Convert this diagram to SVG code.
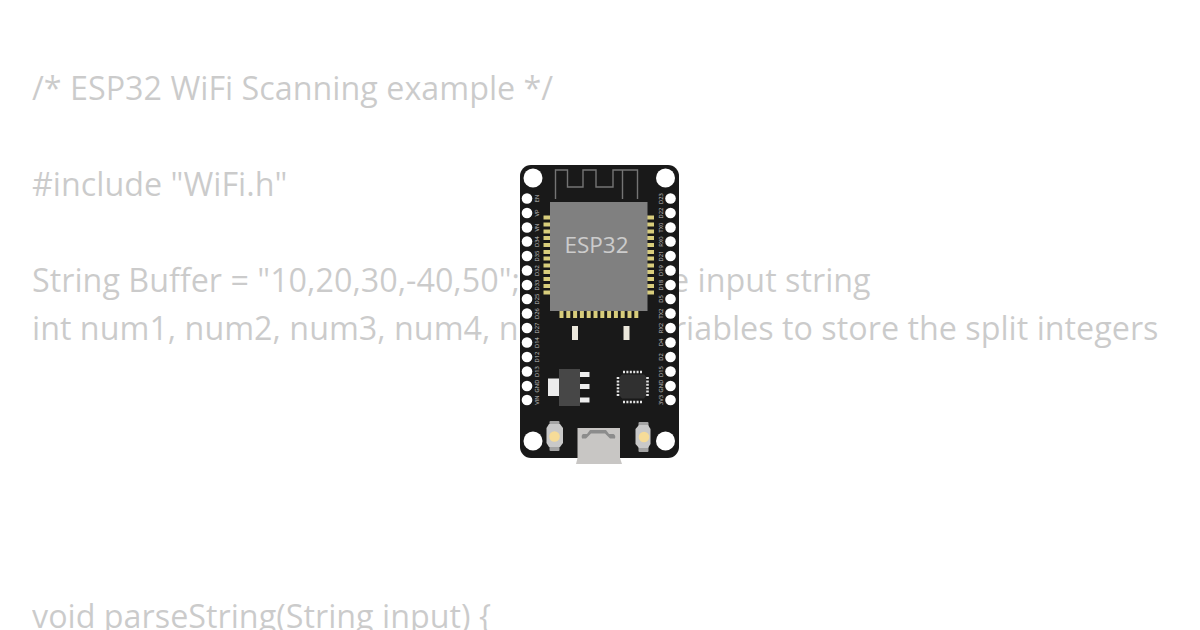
<svg xmlns="http://www.w3.org/2000/svg" width="1200" height="630" viewBox="0 0 1200 630">
<style>
.code{font-family:"Open Sans","Noto Sans",sans-serif;font-size:32.3px;fill:#000;opacity:.2}
.pin{fill:#fff}
.pl{font-family:"Open Sans","DejaVu Sans",sans-serif;font-size:5.800px;fill:#fff;opacity:.72;text-anchor:middle}
.gold{fill:#d8cd7c}
.lead{fill:#eeeeee}
.qfn{fill:none;stroke:#e4e4e4;stroke-width:2.600;stroke-dasharray:2 1.400}
.ledbody{fill:#c9c9c9}
.ledtab{fill:#a4a4a4}
.ledlight{fill:#f6dc98}
</style>
<rect width="1200" height="630" fill="#fff"/>
<g id="code">
<text class="code" x="32" y="100">/* ESP32 WiFi Scanning example */</text>
<text class="code" x="32" y="196">#include "WiFi.h"</text>
<text class="code" x="32" y="292">String Buffer = "10,20,30,-40,50";  // Example input string</text>
<text class="code" x="32" y="340">int num1, num2, num3, num4, num5;  // Variables to store the split integers</text>
<text class="code" x="32" y="628">void parseString(String input) {</text>
</g>
<g id="esp32-board">
<rect x="520" y="165" width="159" height="293" rx="11" fill="#191919"/>
<circle cx="533" cy="178" r="9.500" fill="#fff"/>
<circle cx="665.500" cy="178" r="9.500" fill="#fff"/>
<circle cx="533" cy="441" r="9.500" fill="#fff"/>
<circle cx="665.500" cy="441" r="9.500" fill="#fff"/>
<path d="M555.500 199V170H567.500V187H583V170H596V187H613V170H637.500V199M622.500 170V199" fill="none" stroke="#747474" stroke-width="1.400"/>
<g id="pins-left">
<circle class="pin" cx="527" cy="198.500" r="5.300"/><circle class="pin" cx="527" cy="213" r="5.300"/><circle class="pin" cx="527" cy="227.500" r="5.300"/><circle class="pin" cx="527" cy="241.500" r="5.300"/><circle class="pin" cx="527" cy="256" r="5.300"/><circle class="pin" cx="527" cy="270.500" r="5.300"/><circle class="pin" cx="527" cy="285" r="5.300"/><circle class="pin" cx="527" cy="299" r="5.300"/><circle class="pin" cx="527" cy="313.500" r="5.300"/><circle class="pin" cx="527" cy="328" r="5.300"/><circle class="pin" cx="527" cy="342.500" r="5.300"/><circle class="pin" cx="527" cy="357" r="5.300"/><circle class="pin" cx="527" cy="371.500" r="5.300"/><circle class="pin" cx="527" cy="386" r="5.300"/><circle class="pin" cx="527" cy="400" r="5.300"/>
</g>
<g id="pins-right">
<circle class="pin" cx="670.500" cy="198.500" r="5.300"/><circle class="pin" cx="670.500" cy="213" r="5.300"/><circle class="pin" cx="670.500" cy="227.500" r="5.300"/><circle class="pin" cx="670.500" cy="241.500" r="5.300"/><circle class="pin" cx="670.500" cy="256" r="5.300"/><circle class="pin" cx="670.500" cy="270.500" r="5.300"/><circle class="pin" cx="670.500" cy="285" r="5.300"/><circle class="pin" cx="670.500" cy="299" r="5.300"/><circle class="pin" cx="670.500" cy="313.500" r="5.300"/><circle class="pin" cx="670.500" cy="328" r="5.300"/><circle class="pin" cx="670.500" cy="342.500" r="5.300"/><circle class="pin" cx="670.500" cy="357" r="5.300"/><circle class="pin" cx="670.500" cy="371.500" r="5.300"/><circle class="pin" cx="670.500" cy="386" r="5.300"/><circle class="pin" cx="670.500" cy="400" r="5.300"/>
</g>
<g id="labels-left">
<text class="pl" transform="translate(539,198.500) rotate(-90)">EN</text><text class="pl" transform="translate(539,213) rotate(-90)">VP</text><text class="pl" transform="translate(539,227.500) rotate(-90)">VN</text><text class="pl" transform="translate(539,241.500) rotate(-90)">D34</text><text class="pl" transform="translate(539,256) rotate(-90)">D35</text><text class="pl" transform="translate(539,270.500) rotate(-90)">D32</text><text class="pl" transform="translate(539,285) rotate(-90)">D33</text><text class="pl" transform="translate(539,299) rotate(-90)">D25</text><text class="pl" transform="translate(539,313.500) rotate(-90)">D26</text><text class="pl" transform="translate(539,328) rotate(-90)">D27</text><text class="pl" transform="translate(539,342.500) rotate(-90)">D14</text><text class="pl" transform="translate(539,357) rotate(-90)">D12</text><text class="pl" transform="translate(539,371.500) rotate(-90)">D13</text><text class="pl" transform="translate(539,386) rotate(-90)">GND</text><text class="pl" transform="translate(539,400) rotate(-90)">VIN</text>
</g>
<g id="labels-right">
<text class="pl" transform="translate(663,198.500) rotate(-90)">D23</text><text class="pl" transform="translate(663,213) rotate(-90)">D22</text><text class="pl" transform="translate(663,227.500) rotate(-90)">TX0</text><text class="pl" transform="translate(663,241.500) rotate(-90)">RX0</text><text class="pl" transform="translate(663,256) rotate(-90)">D21</text><text class="pl" transform="translate(663,270.500) rotate(-90)">D19</text><text class="pl" transform="translate(663,285) rotate(-90)">D18</text><text class="pl" transform="translate(663,299) rotate(-90)">D5</text><text class="pl" transform="translate(663,313.500) rotate(-90)">TX2</text><text class="pl" transform="translate(663,328) rotate(-90)">RX2</text><text class="pl" transform="translate(663,342.500) rotate(-90)">D4</text><text class="pl" transform="translate(663,357) rotate(-90)">D2</text><text class="pl" transform="translate(663,371.500) rotate(-90)">D15</text><text class="pl" transform="translate(663,386) rotate(-90)">GND</text><text class="pl" transform="translate(663,400) rotate(-90)">3V3</text>
</g>
<g id="castellations">
<rect class="gold" x="543.500" y="215.500" width="7" height="4"/><rect class="gold" x="543.500" y="222.500" width="7" height="4"/><rect class="gold" x="543.500" y="229.500" width="7" height="4"/><rect class="gold" x="543.500" y="236" width="7" height="4"/><rect class="gold" x="543.500" y="243" width="7" height="4"/><rect class="gold" x="543.500" y="250" width="7" height="4"/><rect class="gold" x="543.500" y="256.500" width="7" height="4"/><rect class="gold" x="543.500" y="263.500" width="7" height="4"/><rect class="gold" x="543.500" y="270" width="7" height="4"/><rect class="gold" x="543.500" y="277" width="7" height="4"/><rect class="gold" x="543.500" y="284" width="7" height="4"/><rect class="gold" x="543.500" y="290.500" width="7" height="4"/>
<rect class="gold" x="647" y="215.500" width="7" height="4"/><rect class="gold" x="647" y="222.500" width="7" height="4"/><rect class="gold" x="647" y="229.500" width="7" height="4"/><rect class="gold" x="647" y="236" width="7" height="4"/><rect class="gold" x="647" y="243" width="7" height="4"/><rect class="gold" x="647" y="250" width="7" height="4"/><rect class="gold" x="647" y="256.500" width="7" height="4"/><rect class="gold" x="647" y="263.500" width="7" height="4"/><rect class="gold" x="647" y="270" width="7" height="4"/><rect class="gold" x="647" y="277" width="7" height="4"/><rect class="gold" x="647" y="284" width="7" height="4"/><rect class="gold" x="647" y="290.500" width="7" height="4"/>
<rect class="gold" x="559.500" y="311" width="4" height="7"/><rect class="gold" x="566.300" y="311" width="4" height="7"/><rect class="gold" x="573.100" y="311" width="4" height="7"/><rect class="gold" x="579.900" y="311" width="4" height="7"/><rect class="gold" x="586.700" y="311" width="4" height="7"/><rect class="gold" x="593.500" y="311" width="4" height="7"/><rect class="gold" x="600.300" y="311" width="4" height="7"/><rect class="gold" x="607.100" y="311" width="4" height="7"/><rect class="gold" x="613.900" y="311" width="4" height="7"/><rect class="gold" x="620.700" y="311" width="4" height="7"/><rect class="gold" x="627.500" y="311" width="4" height="7"/><rect class="gold" x="634.300" y="311" width="4" height="7"/>
</g>
<rect id="module" x="550" y="202" width="97.500" height="109" fill="#808080"/>
<text id="module-label" x="596.500" y="253" font-family="Open Sans, Noto Sans, sans-serif" font-size="22.500" fill="#fff" opacity=".6" text-anchor="middle">ESP32</text>
<rect x="572" y="326" width="6" height="14" fill="#ece8dc"/>
<rect x="623.500" y="326" width="6" height="14" fill="#ece8dc"/>
<g id="regulator">
<rect x="548" y="378.500" width="11" height="17.500" fill="#ececec"/>
<rect class="lead" x="580" y="372" width="9.500" height="5"/><rect class="lead" x="580" y="384" width="9.500" height="5"/><rect class="lead" x="580" y="397.500" width="9.500" height="5"/>
<rect x="559" y="369" width="21" height="37" fill="#474747"/>
</g>
<g id="usb-chip">
<path d="M622 374.500H644L646 376.500V396L644 398.500H622L620 396V376.500Z" fill="#303030"/>
<path class="qfn" d="M623 372H643"/>
<path class="qfn" d="M623 402H643"/>
<path class="qfn" d="M618 377V397"/>
<path class="qfn" d="M647.500 377V397"/>
</g>
<g id="led-left">
<rect class="ledtab" x="549.500" y="421" width="10" height="30" rx="1"/>
<path class="ledbody" d="M549 424H560L563 428V443L560 447H549L546.500 443V428Z"/>
<circle class="ledlight" cx="554.500" cy="436.500" r="5.300"/>
</g>
<g id="led-right">
<rect class="ledtab" x="638.500" y="422" width="10" height="30" rx="1"/>
<path class="ledbody" d="M639 425H648L650.500 429V444L648 448H639L635.500 444V429Z"/>
<circle class="ledlight" cx="644" cy="437" r="5.300"/>
</g>
<g id="usb-connector">
<path d="M577.500 428H620V458L622 464H576L577.500 458Z" fill="#c8c6c4"/>
<path d="M590 430H606L609 434H613.500Q616 435 615 438.500H610L605 433.500H591L586 438.500H582Q581 435 583 434H587Z" fill="#8c8c8c"/>
</g>
</g>
</svg>
